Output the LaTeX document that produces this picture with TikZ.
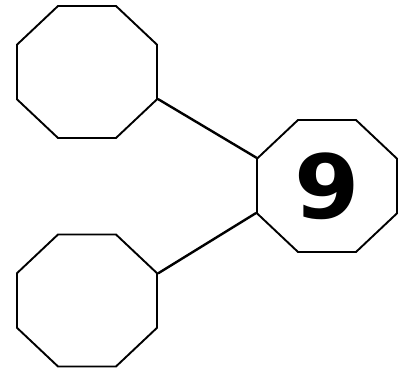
\documentclass[tikz,border=0pt]{standalone}
\usepackage{fontspec}
\usepackage{tikz}
\usetikzlibrary{shapes.geometric}
\newfontfamily\digitfont{DejaVu Sans}
\tikzset{octa/.style={draw,line width=1.9pt,regular polygon,regular polygon sides=8,minimum size=151.5pt,inner sep=0pt,yscale=0.943,transform shape}}

\begin{document}
\begin{tikzpicture}[x=1pt,y=1pt]
	\useasboundingbox (0,0) rectangle (409,371);
	
	\node[octa] (top) at (87,299) {};
	\node[octa] (low) at (87,70.5) {};
	\node[octa,font=\digitfont\bfseries\fontsize{94}{94}\selectfont] (nine) at (327,185) {9};
	
	\draw[line width=2.4pt] (top.-22.5) to (nine.157.5);
	\draw[line width=2.4pt] (low.22.5) to (nine.202.5);
\end{tikzpicture}
\end{document}
